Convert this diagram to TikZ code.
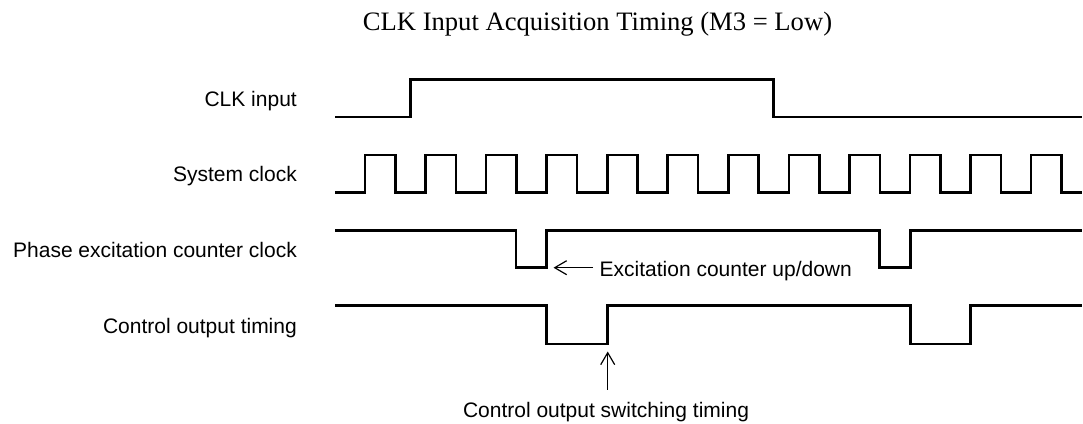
\documentclass[tikz,border=0pt]{standalone}
\usepackage{fontspec}
\setmainfont{Liberation Sans}
\newfontfamily\titlefont{Liberation Serif}
\usetikzlibrary{arrows.meta}
\tikzset{
  sig/.style={line width=2.6pt, line join=miter, line cap=butt},
  lbl/.style={font=\fontsize{21}{25}\selectfont, inner sep=0pt},
  arr/.style={line width=1.2pt, -{Straight Barb[length=12pt,width=14pt,line width=1.2pt]}},
  ttl/.style={font=\titlefont\fontsize{26.6}{30}\selectfont, inner sep=0pt}
}
\begin{document}
\begin{tikzpicture}[x=1pt,y=-1pt]
\useasboundingbox (0,0) rectangle (1083,423);
% title
\node[ttl, anchor=base] (title) at (597.5,30) {CLK Input Acquisition Timing (M3 = Low)};
% signal labels
\node[lbl, anchor=base east] (lclk) at (297,106.3) {CLK input};
\node[lbl, anchor=base east] (lsys) at (297,181.9) {System clock};
\node[lbl, anchor=base east] (lph) at (297,257.5) {Phase excitation counter clock};
\node[lbl, anchor=base east] (lco) at (297,333.1) {Control output timing};
% CLK input
\draw[sig] (335,117) -- (410.7,117) -- (410.7,79.5) -- (773.7,79.5) -- (773.7,117) -- (1082,117);
% System clock
\draw[sig] (335,192.7)
  \foreach \k in {0,...,11} {
    -- ({365+60.55*\k},192.7) -- ({365+60.55*\k},155) -- ({395.4+60.55*\k},155) -- ({395.4+60.55*\k},192.7)
  } -- (1082,192.7);
% Phase excitation counter clock
\draw[sig] (335,230.7) -- (515.8,230.7) -- (515.8,267.7) -- (546.5,267.7) -- (546.5,230.7)
  -- (879.6,230.7) -- (879.6,267.7) -- (910.2,267.7) -- (910.2,230.7) -- (1082,230.7);
% Control output timing
\draw[sig] (335,305.7) -- (546.5,305.7) -- (546.5,344) -- (607.3,344) -- (607.3,305.7)
  -- (910.2,305.7) -- (910.2,344) -- (970.5,344) -- (970.5,305.7) -- (1082,305.7);
% annotations
\coordinate (excTip) at (553.5,267.7);
\node[lbl, anchor=base west, inner xsep=6.5pt] (exc) at (593,276.5) {Excitation counter up/down};
\draw[arr] (exc.west |- excTip) -- (excTip);
\coordinate (swTip) at (607.7,351.5);
\node[lbl, anchor=base, outer ysep=12pt] (cosw) at (606,417) {Control output switching timing};
\draw[arr] (cosw.north -| swTip) -- (swTip);
\end{tikzpicture}
\end{document}
